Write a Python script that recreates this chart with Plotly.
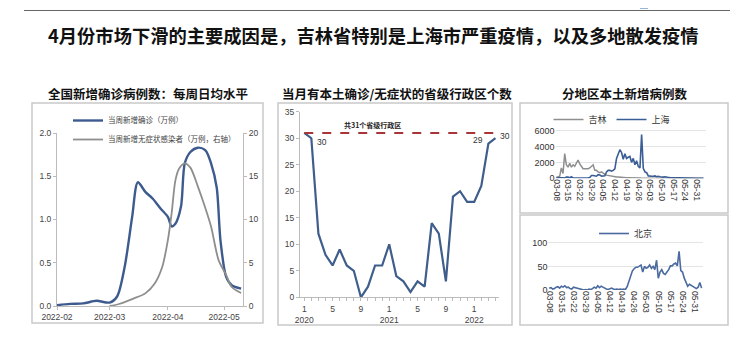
import plotly.graph_objects as go
import pandas as pd

# The page body adds an 8px offset; the figure is drawn in page pixel coordinates
OFF = 8
W, H = 752 - OFF, 363 - OFF
def px(x): return (x - OFF) / W
def py(y): return 1 - (y - OFF) / H

FONT = "Liberation Sans, Arial, Noto Sans CJK SC, sans-serif"
CJK = "Noto Sans CJK SC, Liberation Sans, sans-serif"

# ---------------- Panel 1: weekly daily-average new cases ----------------
conf_dates = ['2022-02-01', '2022-02-08', '2022-02-15', '2022-02-22', '2022-03-01', '2022-03-05',
              '2022-03-09', '2022-03-13', '2022-03-16', '2022-03-20', '2022-03-24', '2022-03-28',
              '2022-04-01', '2022-04-03', '2022-04-05', '2022-04-08', '2022-04-10', '2022-04-13',
              '2022-04-17', '2022-04-21', '2022-04-24', '2022-04-27', '2022-04-29', '2022-05-02',
              '2022-05-05', '2022-05-10']
conf_vals = [0.01, 0.025, 0.03, 0.06, 0.04, 0.11, 0.45, 1.03, 1.43, 1.32, 1.24, 1.13,
             1.03, 0.92, 0.95, 1.15, 1.65, 1.78, 1.83, 1.80, 1.65, 1.37, 0.76, 0.34, 0.24, 0.20]

asym_dates = ['2022-03-01', '2022-03-06', '2022-03-13', '2022-03-20', '2022-03-25', '2022-03-29',
              '2022-04-01', '2022-04-03', '2022-04-05', '2022-04-07', '2022-04-10', '2022-04-13',
              '2022-04-17', '2022-04-21', '2022-04-24', '2022-04-28', '2022-05-02', '2022-05-05',
              '2022-05-10']
asym_vals = [0, 0.23, 0.8, 1.46, 2.6, 4.5, 7.6, 10.7, 14.5, 15.9, 16.5, 16.0, 13.8, 11.3, 9.2,
             5.3, 3.6, 2.2, 1.5]

p1_tickvals = ['2022-02-01', '2022-03-01', '2022-04-01', '2022-05-01']
p1_ticktext = ['2022-02', '2022-03', '2022-04', '2022-05']

# ---------------- Panel 2: provinces with local cases per month ----------------
prov_months = ['2020-01', '2020-02', '2020-03', '2020-04', '2020-05', '2020-06', '2020-07',
               '2020-08', '2020-09', '2020-10', '2020-11', '2020-12', '2021-01', '2021-02',
               '2021-03', '2021-04', '2021-05', '2021-06', '2021-07', '2021-08', '2021-09',
               '2021-10', '2021-11', '2021-12', '2022-01', '2022-02', '2022-03', '2022-04']
prov_counts = [31, 30, 12, 8, 6, 9, 6, 5, 0, 2, 6, 6, 10, 4, 3, 1, 3, 2, 14, 12, 3,
               19, 20, 18, 18, 21, 29, 30]
prov_ticktext = ['1<br>2020', '', '', '', '5', '', '', '', '9', '', '', '',
                 '1<br>2021', '', '', '', '5', '', '', '', '9', '', '', '',
                 '1<br>2022', '', '', '']
total_provinces = 31

# ---------------- Panel 3: daily local cases by region ----------------
region_dates = pd.date_range('2022-03-08', periods=89, freq='D')
jilin = [100, 150, 250, 1300, 600, 3100, 1700, 1400, 1900, 1400,
         1700, 1500, 2000, 2300, 1800, 1400, 1200, 1200, 1200, 1200,
         1300, 1500, 1700, 1000, 1000, 800, 700, 800, 600, 500,
         400, 350, 300, 250, 200, 200, 150, 150, 120, 100,
         100, 90, 80, 80, 60, 60, 50, 40, 40, 30,
         30, 20, 20, 15, 15, 10, 10, 10, 5, 5,
         5, 5, 5, 3, 3, 2, 2, 2, 1, 1,
         1, 1, 1, 0, 0, 0, 0, 0, 0, 0,
         0, 0, 0, 0, 0, 0, 0, 0, 0]
shanghai = [60, 80, 60, 80, 60, 40, 170, 150, 60, 200,
            60, 40, 30, 30, 100, 80, 40, 40, 50, 50,
            100, 350, 350, 350, 260, 450, 420, 270, 310, 320,
            800, 1000, 1000, 900, 1000, 1200, 2500, 3200, 3600, 3250,
            2400, 3100, 2500, 2650, 2750, 2000, 2500, 1700, 2200, 1500,
            1300, 5500, 1250, 800, 700, 300, 250, 250, 250, 300,
            200, 250, 200, 150, 150, 200, 100, 100, 80, 70,
            60, 50, 50, 40, 40, 30, 30, 20, 20, 15,
            10, 10, 10, 8, 5, 5, 5, 5, 5]
beijing = [4, 5, 2, 3, 6, 7, 4, 8, 6, 9,
           5, 6, 3, 2, 6, 5, 4, 2, 1, 1,
           0, 1, 0, 2, 1, 3, 6, 4, 9, 5,
           8, 6, 3, 2, 1, 2, 4, 2, 1, 2,
           1, 2, 1, 2, 1, 7, 17, 28, 40, 45,
           48, 48, 50, 53, 38, 50, 46, 48, 53, 46,
           50, 43, 63, 25, 38, 43, 35, 33, 38, 43,
           51, 51, 55, 57, 51, 82, 41, 38, 25, 17,
           8, 12, 10, 8, 6, 3, 6, 16, 4]

BLUE = '#3D5B8E'
GRAY = '#8E8E8E'

fig = go.Figure()

# Panel 1
fig.add_trace(go.Scatter(x=conf_dates, y=conf_vals, mode='lines', name='当周新增确诊（万例）',
                         line=dict(color=BLUE, width=2.4, shape='spline', smoothing=0.8),
                         xaxis='x', yaxis='y', legend='legend'))
fig.add_trace(go.Scatter(x=asym_dates, y=asym_vals, mode='lines', name='当周新增无症状感染者（万例，右轴）',
                         line=dict(color=GRAY, width=1.8, shape='spline', smoothing=0.8),
                         xaxis='x', yaxis='y2', legend='legend'))

# Panel 2
fig.add_trace(go.Scatter(x=prov_months, y=prov_counts, mode='lines', showlegend=False,
                         line=dict(color='#3F5E8C', width=2.2), xaxis='x3', yaxis='y3'))
fig.add_trace(go.Scatter(x=[prov_months[0], prov_months[-1]], y=[total_provinces] * 2, mode='lines',
                         line=dict(color='#A8353A', width=2, dash='dash'), showlegend=False,
                         xaxis='x3', yaxis='y3'))

# Panel 3 upper
fig.add_trace(go.Scatter(x=region_dates, y=jilin, mode='lines', name='吉林',
                         line=dict(color=GRAY, width=1.5), xaxis='x4', yaxis='y4', legend='legend2'))
fig.add_trace(go.Scatter(x=region_dates, y=shanghai, mode='lines', name='上海',
                         line=dict(color='#3B5D96', width=1.6), xaxis='x4', yaxis='y4', legend='legend2'))
# Panel 3 lower
fig.add_trace(go.Scatter(x=region_dates, y=beijing, mode='lines', name='北京',
                         line=dict(color='#4A6AA0', width=1.6), xaxis='x5', yaxis='y5', legend='legend3'))

tickfont = dict(family=FONT, size=8.5, color='#444')
AX = '#BBBBBB'

fig.update_layout(
    width=W, height=H, margin=dict(l=0, r=0, t=0, b=0, pad=0, autoexpand=False),
    paper_bgcolor='white', plot_bgcolor='white',
    font=dict(family=CJK, color='#333'),
    xaxis=dict(domain=[px(57), px(243)], anchor='y', type='date',
               range=['2022-02-01', '2022-05-11'], tickvals=p1_tickvals, ticktext=p1_ticktext,
               showline=True, linecolor=AX, linewidth=1, ticks='outside', ticklen=3, tickcolor=AX,
               showgrid=False, zeroline=False, tickfont=tickfont, automargin=False),
    yaxis=dict(domain=[py(306), py(133)], anchor='x', range=[0, 2.0], tickvals=[0, 0.5, 1, 1.5, 2],
               ticktext=['0.0', '0.5', '1.0', '1.5', '2.0'], showline=True, linecolor=AX, linewidth=1,
               ticks='outside', ticklen=3, tickcolor=AX, showgrid=False, zeroline=False, tickfont=tickfont,
               automargin=False),
    yaxis2=dict(domain=[py(306), py(133)], anchor='x', overlaying='y', side='right', range=[0, 20],
                tickvals=[0, 5, 10, 15, 20], showline=True, linecolor=AX, linewidth=1,
                ticks='outside', ticklen=3, tickcolor=AX, showgrid=False, zeroline=False, tickfont=tickfont,
                automargin=False),
    xaxis3=dict(domain=[px(300), px(499)], anchor='y3', type='category', range=[-0.6, 27.5],
                categoryorder='array', categoryarray=prov_months,
                tickvals=prov_months, ticktext=prov_ticktext, showline=True, linecolor=AX, linewidth=1,
                ticks='outside', ticklen=3, tickcolor=AX, showgrid=False, zeroline=False, tickfont=tickfont,
                tickangle=0, automargin=False),
    yaxis3=dict(domain=[py(297.3), py(111.7)], anchor='x3', range=[0, 35], dtick=5, showline=True,
                linecolor=AX, linewidth=1, ticks='outside', ticklen=3, tickcolor=AX, showgrid=False,
                zeroline=False, tickfont=tickfont, automargin=False),
    xaxis4=dict(domain=[px(555.5), px(706)], anchor='y4', type='date',
                range=['2022-03-07 12:00', '2022-06-05 12:00'], tick0='2022-03-08', dtick=7 * 86400000,
                tickformat='%m-%d', tickangle=90, showline=False, ticks='', showgrid=False,
                zeroline=False, tickfont=dict(family=FONT, size=8.5, color='#333'), automargin=False),
    yaxis4=dict(domain=[py(178.3), py(129)], anchor='x4', range=[0, 6200], tickvals=[0, 2000, 4000, 6000],
                showline=False, ticks='', showgrid=True, gridcolor='#E4E4E4', zeroline=False,
                tickfont=dict(family=FONT, size=9, color='#333'), automargin=False),
    xaxis5=dict(domain=[px(548.4), px(703.3)], anchor='y5', type='date',
                range=['2022-03-07 12:00', '2022-06-05 00:00'], tick0='2022-03-08', dtick=7 * 86400000,
                tickformat='%m-%d', tickangle=90, showline=False, ticks='', showgrid=False,
                zeroline=False, tickfont=dict(family=FONT, size=8.5, color='#333'), automargin=False),
    yaxis5=dict(domain=[py(290), py(238)], anchor='x5', range=[0, 110], tickvals=[0, 50, 100],
                showline=False, ticks='', showgrid=True, gridcolor='#E4E4E4', zeroline=False,
                tickfont=dict(family=FONT, size=9, color='#333'), automargin=False),
    legend=dict(x=px(68), y=py(106), xanchor='left', yanchor='top', bgcolor='rgba(0,0,0,0)',
                font=dict(family=CJK, size=7.5, color='#444'), tracegroupgap=0, itemwidth=30),
    legend2=dict(x=px(612), y=py(105), xanchor='center', yanchor='top', orientation='h',
                 bgcolor='rgba(0,0,0,0)', font=dict(family=CJK, size=9, color='#333'), itemwidth=30),
    legend3=dict(x=px(626), y=py(219), xanchor='center', yanchor='top', orientation='h',
                 bgcolor='rgba(0,0,0,0)', font=dict(family=CJK, size=9, color='#333'), itemwidth=30),
)

shapes = []
BOX = '#C9C9C9'
for (x0, y0, x1, y1) in [(32, 103, 263, 323), (278, 103, 512, 325), (520, 103, 728, 213), (520, 215, 728, 325)]:
    shapes.append(dict(type='rect', xref='paper', yref='paper', x0=px(x0), x1=px(x1), y0=py(y1), y1=py(y0),
                       line=dict(color=BOX, width=1.5), fillcolor='rgba(0,0,0,0)'))
shapes.append(dict(type='line', xref='paper', yref='paper', x0=px(24), x1=px(730), y0=py(10.5), y1=py(10.5),
                   line=dict(color='#666', width=1)))
shapes.append(dict(type='rect', xref='paper', yref='paper', x0=px(640), x1=px(648), y0=py(8.5), y1=py(8),
                   line=dict(width=0), fillcolor='#2E6DB4'))
fig.update_layout(shapes=shapes)

def A(**kw):
    base = dict(xref='paper', yref='paper', showarrow=False, xanchor='center', yanchor='middle')
    base.update(kw)
    return base

ann = []
ann.append(A(text='<b>4月份市场下滑的主要成因是，吉林省特别是上海市严重疫情，以及多地散发疫情</b>',
             x=px(373), y=py(35), font=dict(family=CJK, size=18.3, color='#111')))
for t, xc in [('全国新增确诊病例数：每周日均水平', 148), ('当月有本土确诊/无症状的省级行政区个数', 397),
              ('分地区本土新增病例数', 625)]:
    ann.append(A(text='<b>' + t + '</b>', x=px(xc), y=py(93), font=dict(family=CJK, size=12.5, color='#111')))
ann.append(A(text='<b>共31个省级行政区</b>', x=9.7, y=total_provinces, xref='x3', yref='y3',
             yanchor='bottom', yshift=1, font=dict(family=CJK, size=7, color='#222')))
ann.append(A(text=str(prov_counts[1]), x=prov_months[1], y=prov_counts[1], xref='x3', yref='y3',
             xanchor='left', xshift=4, yshift=-4, font=dict(family=FONT, size=8.5, color='#333')))
ann.append(A(text=str(prov_counts[26]), x=prov_months[26], y=prov_counts[26], xref='x3', yref='y3',
             xanchor='right', xshift=-3, yshift=4, font=dict(family=FONT, size=8.5, color='#333')))
ann.append(A(text=str(prov_counts[27]), x=prov_months[27], y=prov_counts[27], xref='x3', yref='y3',
             xanchor='left', xshift=3, yshift=2, font=dict(family=FONT, size=8.5, color='#333')))
fig.update_layout(annotations=ann)

fig.write_html('out.html')
